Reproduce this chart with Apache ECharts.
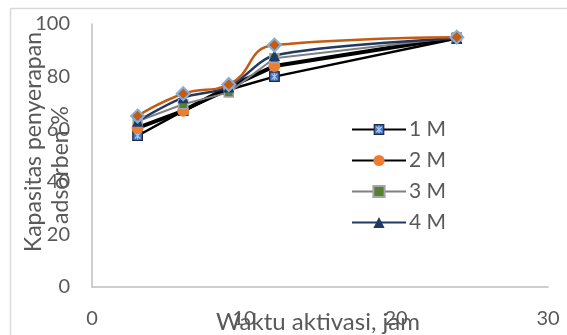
<!DOCTYPE html>
<html><head><meta charset="utf-8">
<script src="https://cdn.jsdelivr.net/npm/echarts@6/dist/echarts.min.js"></script>
<style>html,body{margin:0;padding:0;background:#fff}#c{width:567px;height:335px}</style>
</head><body><div id="c"></div>
<script>
// Data
const xValues = [3, 6, 9, 12, 24];           // Waktu aktivasi, jam
const s1M = [57.5, 67, 75, 80, 94.5];
const s2M = [60.5, 67, 76, 84, 95];
const s3M = [63, 69.5, 74, 87, 95];
const s4M = [63, 72, 76, 88, 94.5];
const s5 = [65, 73.5, 77, 92, 95];            // extra series (no legend entry visible)
const seriesNames = ['1 M', '2 M', '3 M', '4 M'];
const xTicks = [0, 10, 20, 30];
const yTicks = [0, 20, 40, 60, 80, 100];

const FONT = 'Lato';
const GRAY = '#595959';
const pts = arr => xValues.map((x, i) => [x, arr[i]]);

const starSvg = "<svg xmlns='http://www.w3.org/2000/svg' width='12' height='12'>" +
  "<rect x='0.75' y='0.75' width='10.5' height='10.5' fill='#4472C4' stroke='#1f2a44' stroke-width='1.5'/>" +
  "<path d='M3 3L9 9M9 3L3 9M6 2V10' stroke='#A9C8F0' stroke-width='1.3'/></svg>";
const starSym = 'image://data:image/svg+xml;charset=utf-8,' + encodeURIComponent(starSvg);

const chart = echarts.init(document.getElementById('c'), null, {renderer: 'canvas'});
chart.setOption({
  animation: false,
  backgroundColor: '#fff',
  grid: {left: 92, right: 19, top: 24, bottom: 48, containLabel: false},
  xAxis: {
    type: 'value', min: xTicks[0], max: xTicks[xTicks.length - 1], interval: 10,
    axisLine: {show: true, lineStyle: {color: '#BFBFBF', width: 1.5}},
    axisTick: {show: false}, splitLine: {show: false},
    axisLabel: {color: GRAY, fontFamily: FONT, fontSize: 20, margin: 22}
  },
  yAxis: {
    type: 'value', min: yTicks[0], max: yTicks[yTicks.length - 1], interval: 20,
    axisLine: {show: true, lineStyle: {color: '#BFBFBF', width: 1.5}},
    axisTick: {show: false}, splitLine: {show: false},
    axisLabel: {color: GRAY, fontFamily: FONT, fontSize: 20, margin: 22}
  },
  legend: {
    data: seriesNames, orient: 'vertical', left: 346, top: 114,
    itemWidth: 54, itemHeight: 14, itemGap: 10,
    textStyle: {color: GRAY, fontFamily: FONT, fontSize: 21, padding: [0, 0, 0, -2]}
  },
  series: [
    {name: seriesNames[0], type: 'line', data: pts(s1M), symbol: starSym, symbolSize: 11,
      lineStyle: {color: '#000', width: 2.5}, itemStyle: {color: '#4472C4'}},
    {name: seriesNames[1], type: 'line', data: pts(s2M), symbol: 'circle', symbolSize: 12,
      lineStyle: {color: '#000', width: 4}, itemStyle: {color: '#ED7D31'}},
    {name: seriesNames[2], type: 'line', data: pts(s3M), symbol: 'rect', symbolSize: 9,
      lineStyle: {color: '#808080', width: 2}, itemStyle: {color: '#548235', borderColor: '#A5A5A5', borderWidth: 1.5}},
    {name: seriesNames[3], type: 'line', data: pts(s4M), symbol: 'triangle', symbolSize: 11, smooth: 0.3,
      lineStyle: {color: '#1F3864', width: 2.5}, itemStyle: {color: '#1F3864'}},
    {name: '5 M', type: 'line', data: pts(s5), symbol: 'diamond', symbolSize: 13, smooth: 0.5,
      lineStyle: {color: '#C55A11', width: 2.5}, itemStyle: {color: '#C55A11', borderColor: '#7FB0E0', borderWidth: 2}}
  ],
  graphic: [
    {type: 'rect', z: -10, shape: {x: 10.5, y: 8.5, width: 600, height: 400},
      style: {fill: 'none', stroke: '#D9D9D9', lineWidth: 1.5}},
    {type: 'text', x: 54, y: -14, style: {text: 'terhadap kapasitas adsorpsi',
      font: 'bold 30px "Liberation Serif"', fill: '#000', verticalAlign: 'middle', align: 'left'}},
    {type: 'text', x: 34, y: 142, rotation: Math.PI / 2, style: {text: 'Kapasitas penyerapan',
      fontFamily: FONT, fontSize: 23, fill: GRAY, align: 'center', verticalAlign: 'middle'}},
    {type: 'text', x: 61, y: 165, rotation: Math.PI / 2, style: {text: 'adsorben %',
      fontFamily: FONT, fontSize: 23, fill: GRAY, align: 'center', verticalAlign: 'middle'}},
    {type: 'text', x: 318, y: 322, style: {text: 'Waktu aktivasi, jam',
      fontFamily: FONT, fontSize: 24, fill: GRAY, align: 'center', verticalAlign: 'middle'}}
  ]
});
</script></body></html>
